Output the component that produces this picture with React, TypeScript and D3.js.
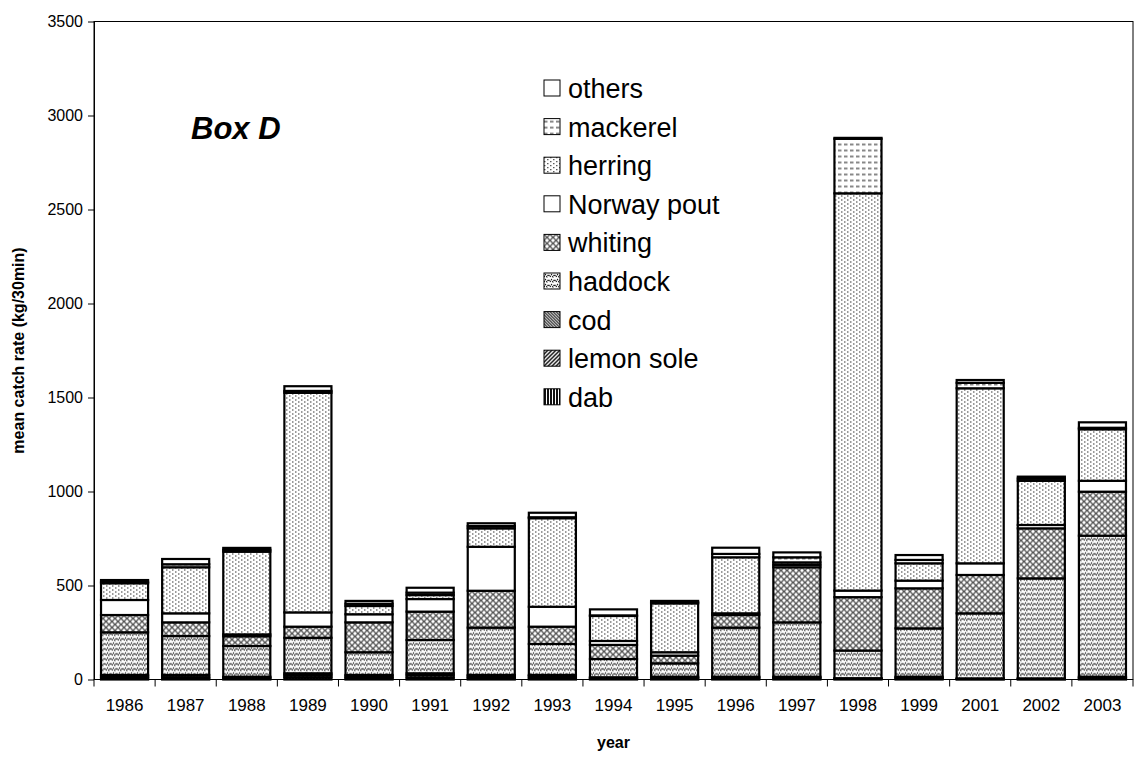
import * as d3 from 'd3';
import React, { useEffect, useRef } from 'react';

const years = ['1986', '1987', '1988', '1989', '1990', '1991', '1992', '1993', '1994', '1995', '1996', '1997', '1998', '1999', '2001', '2002', '2003'];

// stacked bottom -> top
const dab = [8, 6, 5, 12, 8, 10, 8, 8, 4, 5, 5, 5, 3, 5, 2, 2, 5];
const lemonSole = [8, 6, 5, 12, 8, 13, 8, 10, 4, 5, 6, 5, 2, 5, 2, 2, 5];
const cod = [8, 12, 5, 9, 8, 10, 8, 6, 4, 5, 4, 5, 2, 5, 2, 2, 5];
const haddock = [227, 207, 163, 189, 121, 177, 252, 165, 97, 71, 261, 289, 147, 257, 346, 532, 750];
const whiting = [92, 73, 52, 59, 159, 151, 196, 92, 75, 41, 67, 293, 284, 213, 204, 266, 234];
const norwayPout = [80, 48, 10, 76, 43, 67, 234, 106, 21, 18, 9, 13, 35, 41, 62, 18, 58];
const herring = [89, 245, 440, 1168, 44, 21, 98, 471, 133, 260, 298, 13, 2113, 92, 931, 235, 274];
const mackerel = [8, 16, 10, 10, 12, 13, 12, 5, 3, 6, 18, 27, 290, 18, 29, 12, 8];
const others = [9, 28, 10, 25, 15, 26, 15, 24, 32, 7, 33, 26, 5, 26, 15, 10, 29];

const species = ['dab', 'lemon sole', 'cod', 'haddock', 'whiting', 'Norway pout', 'herring', 'mackerel', 'others'];
const seriesValues = [dab, lemonSole, cod, haddock, whiting, norwayPout, herring, mackerel, others];
const yTicks = [0, 500, 1000, 1500, 2000, 2500, 3000, 3500];

const width = 1138;
const height = 760;
const margin = { top: 21.5, right: 5, bottom: 80.5, left: 94 };
const font = 'Arial, "Liberation Sans", sans-serif';

const App: React.FC = () => {
  const ref = useRef<SVGSVGElement>(null);

  useEffect(() => {
    if (!ref.current) return;
    const svg = d3.select(ref.current);
    svg.selectAll('*').remove();

    const innerW = width - margin.left - margin.right;
    const innerH = height - margin.top - margin.bottom;

    const rows = years.map((yr, i) => {
      const r: any = { year: yr };
      species.forEach((s, j) => (r[s] = seriesValues[j][i]));
      return r;
    });
    const stacked = d3.stack<any>().keys(species)(rows);

    const x = d3.scaleBand<string>().domain(years).range([0, innerW]).paddingInner(0.23).paddingOuter(0.115);
    const y = d3.scaleLinear().domain([0, 3500]).range([innerH, 0]);

    // patterns
    const defs = svg.append('defs');
    const pat = (id: string, w: number, h: number, draw: (p: any) => void) => {
      const p = defs.append('pattern').attr('id', id).attr('patternUnits', 'userSpaceOnUse').attr('width', w).attr('height', h);
      p.append('rect').attr('width', w).attr('height', h).attr('fill', 'white');
      draw(p);
    };
    pat('p-dab', 3, 3, (p) => {
      p.append('rect').attr('x', 0).attr('width', 2).attr('height', 3).attr('fill', '#111');
    });
    pat('p-lemon', 4, 4, (p) => {
      p.append('path').attr('d', 'M-1,1 L1,-1 M0,4 L4,0 M3,5 L5,3').attr('stroke', '#111').attr('stroke-width', 1.5);
    });
    pat('p-cod', 3, 3, (p) => {
      p.append('path').attr('d', 'M-1,-1 L4,4 M-1,2 L1,4 M2,-1 L4,1').attr('stroke', '#111').attr('stroke-width', 1.2);
    });
    pat('p-haddock', 6, 5, (p) => {
      p.append('path').attr('d', 'M0,4 L1.5,1.5 L3,4 L4.5,1.5 L6,4').attr('stroke', '#111').attr('stroke-width', 1.1).attr('stroke-dasharray', '1.5,0.8').attr('fill', 'none');
    });
    pat('p-whiting', 6, 6, (p) => {
      p.append('path').attr('d', 'M0,0 L6,6 M6,0 L0,6').attr('stroke', '#555').attr('stroke-width', 1.3);
    });
    pat('p-herring', 6, 4, (p) => {
      p.append('rect').attr('x', 0).attr('y', 0).attr('width', 1.5).attr('height', 1).attr('fill', '#333');
      p.append('rect').attr('x', 3).attr('y', 2).attr('width', 1.5).attr('height', 1).attr('fill', '#333');
    });
    pat('p-mackerel', 6, 6, (p) => {
      p.append('path').attr('d', 'M0,3 L3.5,3').attr('stroke', '#111').attr('stroke-width', 1);
    });
    const fills: Record<string, string> = {
      dab: 'url(#p-dab)',
      'lemon sole': 'url(#p-lemon)',
      cod: 'url(#p-cod)',
      haddock: 'url(#p-haddock)',
      whiting: 'url(#p-whiting)',
      'Norway pout': 'white',
      herring: 'url(#p-herring)',
      mackerel: 'url(#p-mackerel)',
      others: 'white',
    };

    const g = svg.append('g').attr('transform', `translate(${margin.left},${margin.top})`);

    // plot border
    g.append('rect').attr('width', innerW).attr('height', innerH).attr('fill', 'none').attr('stroke', 'black').attr('stroke-width', 1);

    // y axis
    const yAxis = g.append('g').call(
      d3.axisLeft(y).tickValues(yTicks).tickFormat(d3.format('d')).tickSize(6).tickSizeOuter(0).tickPadding(5)
    );
    yAxis.select('.domain').attr('stroke', 'black');
    yAxis.selectAll('text').attr('font-family', font).attr('font-size', 16).attr('fill', 'black');

    // x ticks between categories
    const step = x.step();
    const bounds = d3.range(years.length + 1).map((i) => i * step);
    g.append('g')
      .selectAll('line')
      .data(bounds)
      .join('line')
      .attr('x1', (d) => d)
      .attr('x2', (d) => d)
      .attr('y1', innerH)
      .attr('y2', innerH + 7)
      .attr('stroke', 'black');
    g.append('g')
      .selectAll('text')
      .data(years)
      .join('text')
      .attr('x', (d) => (x(d) as number) + x.bandwidth() / 2)
      .attr('y', innerH + 31)
      .attr('text-anchor', 'middle')
      .attr('font-family', font)
      .attr('font-size', 17)
      .text((d) => d);

    // bars
    g.append('g')
      .selectAll('g')
      .data(stacked)
      .join('g')
      .attr('fill', (d) => fills[d.key])
      .selectAll('rect')
      .data((d) => d)
      .join('rect')
      .attr('x', (d) => x(d.data.year) as number)
      .attr('width', x.bandwidth())
      .attr('y', (d) => y(d[1]))
      .attr('height', (d) => y(d[0]) - y(d[1]))
      .attr('stroke', 'black')
      .attr('stroke-width', 2.2);

    // axis titles
    svg
      .append('text')
      .attr('transform', `translate(24,${margin.top + innerH / 2}) rotate(-90)`)
      .attr('text-anchor', 'middle')
      .attr('font-family', font)
      .attr('font-weight', 'bold')
      .attr('font-size', 16)
      .text('mean catch rate (kg/30min)');
    svg
      .append('text')
      .attr('x', margin.left + innerW / 2)
      .attr('y', 748)
      .attr('text-anchor', 'middle')
      .attr('font-family', font)
      .attr('font-weight', 'bold')
      .attr('font-size', 16)
      .text('year');

    svg
      .append('text')
      .attr('x', 191)
      .attr('y', 139)
      .attr('font-family', font)
      .attr('font-weight', 'bold')
      .attr('font-style', 'italic')
      .attr('font-size', 31)
      .text('Box D');

    // legend (top -> bottom reversed)
    const legend = svg
      .append('g')
      .attr('transform', 'translate(544,80)')
      .selectAll('g')
      .data(species.slice().reverse())
      .join('g')
      .attr('transform', (_, i) => `translate(0,${i * 38.6})`);
    legend
      .append('rect')
      .attr('width', 16)
      .attr('height', 16)
      .attr('fill', (d) => fills[d])
      .attr('stroke', 'black')
      .attr('stroke-width', 1);
    legend
      .append('text')
      .attr('x', 24)
      .attr('y', 18)
      .attr('font-family', font)
      .attr('font-size', 27)
      .text((d) => d);
  }, []);

  return <svg ref={ref} width={width} height={height} style={{ position: 'absolute', left: 0, top: 0, background: 'white' }}></svg>;
};

export default App;
